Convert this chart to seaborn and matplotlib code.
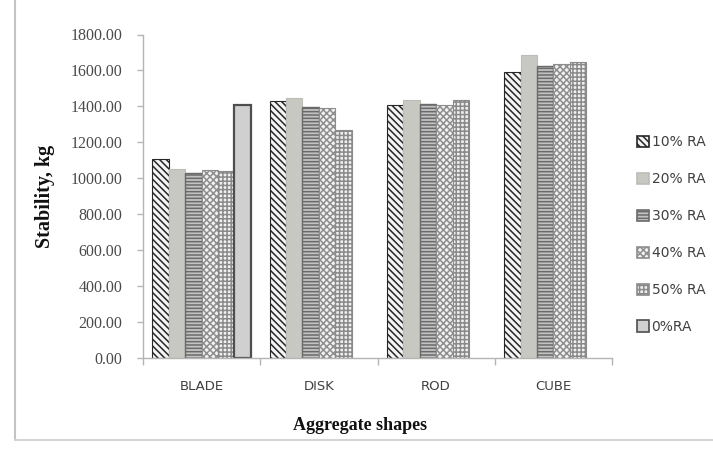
import numpy as np
import pandas as pd
import matplotlib
matplotlib.use("Agg")
import matplotlib.pyplot as plt
from matplotlib.patches import Patch
from matplotlib.lines import Line2D
import seaborn as sns

# Marshall stability by aggregate shape and recycled-aggregate content
shapes = ["BLADE", "DISK", "ROD", "CUBE"]
series = ["10% RA", "20% RA", "30% RA", "40% RA", "50% RA", "0%RA"]
ra10 = [1107, 1432, 1410, 1592]
ra20 = [1052, 1447, 1437, 1685]
ra30 = [1028, 1394, 1415, 1625]
ra40 = [1048, 1392, 1410, 1636]
ra50 = [1038, 1268, 1434, 1645]
ra0 = [1410, np.nan, np.nan, np.nan]
yticks = [0, 200, 400, 600, 800, 1000, 1200, 1400, 1600, 1800]

# bar styling per series
faces = ["#f4f4f4", "#c8c8c2", "#c2c2c2", "#f2f2f2", "#f0f0f0", "#d0d0d0"]
edges = ["#262626", "#bdbdb8", "#6a6a6a", "#8e8e8e", "#8a8a8a", "#4e4e4e"]
hatches = ["\\\\\\\\\\", "", "-----", "xxxxx", "++++", ""]
widths = [0.8, 0.8, 1.0, 0.8, 0.8, 1.6]

sns.set_theme(style="white")
plt.rcParams["hatch.linewidth"] = 1.1

rows = []
for name, vals in zip(series, [ra10, ra20, ra30, ra40, ra50, ra0]):
    for shape, v in zip(shapes, vals):
        rows.append({"shape": shape, "series": name, "stability": v})
df = pd.DataFrame(rows)

fig = plt.figure(figsize=(7.13, 4.49), dpi=100)
fig.patch.set_facecolor("white")
ax = fig.add_axes([143 / 713, 1 - 358 / 449, 469 / 713, 323.5 / 449])

sns.barplot(data=df, x="shape", y="stability", hue="series",
            order=shapes, hue_order=series, width=0.84,
            palette=dict(zip(series, faces)), saturation=1,
            errorbar=None, legend=False, ax=ax)

for i, cont in enumerate(ax.containers[:len(series)]):
    for bar in cont:
        bar.set_facecolor(faces[i])
        bar.set_edgecolor(edges[i])
        bar.set_hatch(hatches[i])
        bar.set_linewidth(widths[i])

ax.set_ylim(0, 1800)
ax.set_yticks(yticks)
ax.set_yticklabels([f"{v:.2f}" for v in yticks],
                   fontfamily="Liberation Serif", fontsize=11.5, color="#4a4a4a")
ax.set_xticks(range(len(shapes)))
ax.set_xticklabels(shapes, fontfamily="DejaVu Sans", fontsize=9.5, color="#404040")
ax.set_xticks(np.arange(-0.5, len(shapes), 1.0), minor=True)
ax.set_xlim(-0.5, len(shapes) - 0.5)

ax.tick_params(axis="x", which="major", length=0, pad=16)
ax.tick_params(axis="x", which="minor", bottom=True, length=5, width=1,
               color="#b5b5b5", direction="out")
ax.tick_params(axis="y", left=True, length=4, width=1, color="#b5b5b5",
               direction="out", pad=11)

for side in ["top", "right"]:
    ax.spines[side].set_visible(False)
for side in ["left", "bottom"]:
    ax.spines[side].set_color("#b5b5b5")
    ax.spines[side].set_linewidth(1.0)

ax.set_ylabel("Stability, kg", fontfamily="Liberation Serif",
              fontweight="bold", fontsize=14.5, color="#111111")
ax.yaxis.set_label_coords(-0.209, 0.5)
ax.yaxis.label.set_va("center")
ax.set_xlabel("Aggregate shapes", fontfamily="Liberation Serif",
              fontweight="bold", fontsize=13, color="#111111")
ax.xaxis.set_label_coords(0.463, -0.21)
ax.xaxis.label.set_va("center")

handles = [Patch(facecolor=faces[i], edgecolor=edges[i], hatch=hatches[i],
                 linewidth=1.2, label=series[i]) for i in range(len(series))]
fig.legend(handles=handles, loc="center left",
           bbox_to_anchor=(637 / 713, 1 - 234.5 / 449), frameon=False,
           borderpad=0, borderaxespad=0, handlelength=0.85, handleheight=0.85,
           handletextpad=0.2, labelspacing=1.65,
           prop={"family": "DejaVu Sans", "size": 10}, labelcolor="#404040")

# outer chart frame
fig.add_artist(Line2D([15 / 713, 15 / 713], [1 - 440 / 449, 1.0],
                      transform=fig.transFigure, color="#c4c4c4", lw=1.5))
fig.add_artist(Line2D([15 / 713, 1.0], [1 - 440 / 449, 1 - 440 / 449],
                      transform=fig.transFigure, color="#d4d4d4", lw=1.5))

fig.savefig("out.png", dpi=100, facecolor="white")
